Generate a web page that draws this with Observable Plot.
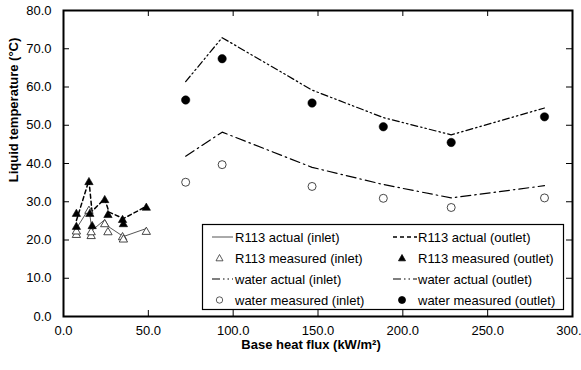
<!DOCTYPE html>
<html>
<head>
<meta charset="utf-8">
<script src="https://cdn.jsdelivr.net/npm/d3@7"></script>
<script src="https://cdn.jsdelivr.net/npm/@observablehq/plot@0.6"></script>
<style>
  html, body { margin: 0; padding: 0; background: #fff; overflow: hidden; }
  #wrap { position: relative; width: 581px; height: 370px; font-family: "Liberation Sans", Arial, sans-serif; }
  #legend { position: absolute; left: 0; top: 0; }
</style>
</head>
<body>
<div id="wrap"></div>
<script>
// ---- data ----
const xTicks = [0, 50, 100, 150, 200, 250, 300];
const yTicks = [0, 10, 20, 30, 40, 50, 60, 70, 80];

const r113X = [7.6, 15, 16.8, 24.3, 26.8, 35.3, 48.8];
const r113ActualIn = [23.0, 28.2, 22.5, 25.3, 23.4, 20.9, 23.0];
const r113ActualOut = [25.1, 35.6, 27.5, 30.8, 27.3, 25.6, 28.8];

const r113MeasInX = [7.6, 7.6, 15, 16.3, 16.3, 24.3, 26.2, 34.8, 35.3, 48.8];
const r113MeasIn = [21.3, 22.2, 27.6, 21.0, 22.0, 24.1, 22.0, 20.7, 20.1, 22.1];
const r113MeasOutX = [7.6, 7.6, 15, 15.5, 16.9, 24.3, 26.2, 34.8, 35.3, 48.8];
const r113MeasOut = [26.8, 23.4, 35.1, 26.8, 23.6, 30.4, 26.5, 25.2, 24.1, 28.4];

const waterX = [72, 93.5, 146.5, 188.5, 228.5, 283.5];
const waterActualIn = [41.9, 48.2, 39.0, 34.5, 31.0, 34.2];
const waterActualOut = [61.4, 72.9, 59.2, 52.0, 47.5, 54.5];
const waterMeasIn = [35.1, 39.7, 34.0, 30.9, 28.5, 31.0];
const waterMeasOut = [56.6, 67.4, 55.8, 49.6, 45.5, 52.2];

const yTitle = "Liquid temperature (°C)";
const xTitle = "Base heat flux (kW/m²)";
const legendLabels = [
  ["R113 actual (inlet)", "R113 actual (outlet)"],
  ["R113 measured (inlet)", "R113 measured (outlet)"],
  ["water actual (inlet)", "water actual (outlet)"],
  ["water measured (inlet)", "water measured (outlet)"]
];

// ---- build ----
const pts = (xs, ys) => xs.map((x, i) => ({x, y: ys[i]}));
const font = "Liberation Sans, Arial, sans-serif";

const chart = Plot.plot({
  width: 581,
  height: 370,
  marginLeft: 63,
  marginRight: 9,
  marginTop: 10,
  marginBottom: 54,
  style: {fontFamily: font, fontSize: "13px", color: "#000", background: "#fff"},
  x: {domain: [0, 300]},
  y: {domain: [0, 80]},
  marks: [
    // lines
    Plot.line(pts(r113X, r113ActualIn), {x: "x", y: "y", stroke: "#555", strokeWidth: 1}),
    Plot.line(pts(r113X, r113ActualOut), {x: "x", y: "y", stroke: "#000", strokeWidth: 1.5, strokeDasharray: "4,3"}),
    Plot.line(pts(waterX, waterActualIn), {x: "x", y: "y", stroke: "#000", strokeWidth: 1.2, strokeDasharray: "10,4,1.5,4"}),
    Plot.line(pts(waterX, waterActualOut), {x: "x", y: "y", stroke: "#000", strokeWidth: 1.2, strokeDasharray: "7,3,1.5,3,1.5,3"}),
    // markers
    Plot.dot(pts(r113MeasInX, r113MeasIn), {x: "x", y: "y", symbol: "triangle", r: 3.1, fill: "#fff", stroke: "#333", strokeWidth: 0.9}),
    Plot.dot(pts(r113MeasOutX, r113MeasOut), {x: "x", y: "y", symbol: "triangle", r: 3.1, fill: "#000", stroke: "#000", strokeWidth: 0.6}),
    Plot.dot(pts(waterX, waterMeasIn), {x: "x", y: "y", r: 4, fill: "#fff", stroke: "#333", strokeWidth: 0.9}),
    Plot.dot(pts(waterX, waterMeasOut), {x: "x", y: "y", r: 4.2, fill: "#000", stroke: "#000", strokeWidth: 0.5}),
    // inward ticks on all four sides
    Plot.tickY(yTicks, {y: d => d, insetRight: 503, stroke: "#000"}),
    Plot.tickY(yTicks, {y: d => d, insetLeft: 503, stroke: "#000"}),
    Plot.tickX(xTicks, {x: d => d, insetBottom: 300, stroke: "#000"}),
    Plot.tickX(xTicks, {x: d => d, insetTop: 300, stroke: "#000"}),
    // tick labels
    Plot.axisY(yTicks, {anchor: "left", tickSize: 0, tickPadding: 12, tickFormat: d => d.toFixed(1), fontSize: 13, label: null}),
    Plot.axisX(xTicks, {anchor: "bottom", tickSize: 0, tickPadding: 9, tickFormat: d => d.toFixed(1), fontSize: 13, label: null}),
    // frame
    Plot.frame({stroke: "#000", strokeWidth: 2}),
    // x axis title
    Plot.text([xTitle], {frameAnchor: "bottom", dy: 32, dx: -7, fontWeight: "bold", fontSize: 13, fill: "#000"})
  ]
});

const wrap = document.getElementById("wrap");
wrap.appendChild(chart);

// ---- overlay: y title and legend ----
const ns = "http://www.w3.org/2000/svg";
const lg = document.createElementNS(ns, "svg");
lg.setAttribute("id", "legend");
lg.setAttribute("width", 581);
lg.setAttribute("height", 370);
wrap.appendChild(lg);
function el(tag, attrs) {
  const e = document.createElementNS(ns, tag);
  for (const k in attrs) e.setAttribute(k, attrs[k]);
  lg.appendChild(e);
  return e;
}
const yt = el("text", {x: 13, y: 110, transform: "rotate(-90 13 110)", "text-anchor": "middle", "dominant-baseline": "central",
  "font-size": 13, "font-weight": "bold", "font-family": font, fill: "#000"});
yt.textContent = yTitle;

el("rect", {x: 202.5, y: 224.5, width: 361, height: 85, fill: "#fff", stroke: "#000", "stroke-width": 1.2});
const rowY = [237, 258, 279, 300];
const colSw = [[212, 233], [393, 417]];
const colTx = [235, 418];
function swatch(row, col) {
  const y = rowY[row];
  const [a, b] = colSw[col];
  const c = (a + b) / 2 - 3;
  if (row === 0) {
    if (col === 0) el("line", {x1: a, x2: b, y1: y, y2: y, stroke: "#555", "stroke-width": 1});
    else el("line", {x1: a, x2: b, y1: y, y2: y, stroke: "#000", "stroke-width": 1.3, "stroke-dasharray": "4,3"});
  } else if (row === 1) {
    const s = 3.5;
    el("path", {d: `M${c},${y - s}L${c + s},${y + s * 0.8}L${c - s},${y + s * 0.8}Z`,
      fill: col === 0 ? "#fff" : "#000", stroke: col === 0 ? "#333" : "#000", "stroke-width": 0.8});
  } else if (row === 2) {
    el("line", {x1: a, x2: b, y1: y, y2: y, stroke: "#000", "stroke-width": 1.2, "stroke-dasharray": "8,3,1.5,3,1.5,3"});
  } else {
    el("circle", {cx: c, cy: y, r: col === 0 ? 3.2 : 3.5, fill: col === 0 ? "#fff" : "#000", stroke: col === 0 ? "#333" : "#000", "stroke-width": 0.8});
  }
}
legendLabels.forEach((row, i) => row.forEach((lab, j) => {
  swatch(i, j);
  const t = el("text", {x: colTx[j], y: rowY[i], "dominant-baseline": "central", "font-size": 13, "font-family": font, fill: "#000"});
  t.textContent = lab;
}));
</script>
</body>
</html>
